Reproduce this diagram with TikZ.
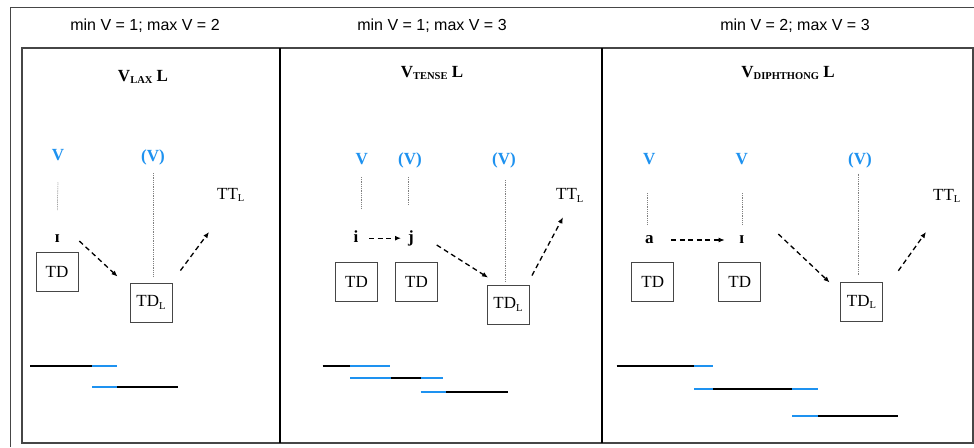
\documentclass[tikz,border=0pt]{standalone}
\usepackage{fontspec}
\setmainfont{Liberation Serif}
\newfontfamily\titlefont{Liberation Sans}
\usetikzlibrary{calc,arrows.meta}
\definecolor{vblue}{RGB}{30,146,240}
\definecolor{framegray}{RGB}{70,70,70}
\newcommand{\subsc}[1]{\raisebox{-0.35ex}{\fontsize{10.5}{11}\selectfont #1}}
\tikzset{
  titletext/.style={font=\titlefont\fontsize{16}{18}\selectfont, anchor=base, inner sep=0pt},
  headtext/.style={font=\bfseries\fontsize{17}{19}\selectfont, anchor=base, inner sep=0pt},
  vtext/.style={font=\bfseries\fontsize{17}{19}\selectfont, text=vblue, anchor=base, inner sep=0pt},
  segtext/.style={font=\bfseries\fontsize{17}{19}\selectfont, anchor=base, inner sep=0pt},
  tttext/.style={font=\fontsize{17}{19}\selectfont, anchor=base west, inner sep=0pt},
  tdbox/.style={draw=framegray, line width=0.9pt, minimum width=42pt, minimum height=39pt, inner sep=0pt, font=\fontsize{17}{19}\selectfont},
  dasharrow/.style={black, line width=1.3pt, dash pattern=on 5pt off 3.5pt, -{Latex[length=6pt,width=5pt]}},
  vline/.style={gray, line width=0.6pt, dash pattern=on 0.9pt off 0.9pt},
  bk/.style={black, line width=2.2pt},
  bl/.style={vblue, line width=2.2pt},
  panel/.style={draw=framegray, line width=1.3pt},
}
\begin{document}
\begin{tikzpicture}[x=1pt,y=-1pt]
\useasboundingbox (0,0) rectangle (974,447);
\fill[white] (0,0) rectangle (974,447);
% outer frame
\draw[framegray, line width=1pt] (10,447) -- (10,7) -- (974,7);
% panels
\draw[panel] (22,48) rectangle (973,443);
\draw[black, line width=1.8pt] (280,48) -- (280,443);
\draw[black, line width=1.8pt] (602,48) -- (602,443);
% titles
\node[titletext] (t1) at (145,30.5) {min V = 1; max V = 2};
\node[titletext] (t2) at (432,30.5) {min V = 1; max V = 3};
\node[titletext] (t3) at (795,30.5) {min V = 2; max V = 3};
% headings
\node[headtext] (h1) at (143,81) {V\subsc{LAX} L};
\node[headtext] (h2) at (432,77) {V\subsc{TENSE} L};
\node[headtext] (h3) at (788,77) {V\subsc{DIPHTHONG} L};

% ---------- panel 1 ----------
\node[vtext] (v1a) at (58,160.5) {V};
\node[vtext] (v1b) at (153,161) {(V)};
\node[segtext] (s1a) at (57.3,242) {ɪ};
\node[tdbox] (td1a) at (57,271.5) {TD};
\node[tdbox] (tdl1) at (151,302.5) {TD\subsc{L}};
\node[tttext] (tt1) at (217,199) {TT\subsc{L}};
\draw[vline] ($(v1a.base)+(0,22)$) -- ($(s1a.base)+(0,-32)$);
\draw[vline] ($(v1b.base)+(0,12)$) -- ($(tdl1.north)+(2,-6)$);
\coordinate (a1s) at ($(s1a.base)+(22,-1)$);
\coordinate (a1e) at ($(tdl1.north west)+(-12,-6)$);
\draw[dasharrow] (a1s) -- (a1e);
\coordinate (a2s) at ($(tdl1.north east)+(8,-12)$);
\coordinate (a2e) at ($(tt1.base west)+(-8,33)$);
\draw[dasharrow] (a2s) -- (a2e);
\draw[bk] (30,366) -- (92,366);
\draw[bl] (92,366) -- (117,366);
\draw[bl] (92,387) -- (117,387);
\draw[bk] (117,387) -- (178,387);

% ---------- panel 2 ----------
\node[vtext] (v2a) at (361.7,164) {V};
\node[vtext] (v2b) at (410,164) {(V)};
\node[vtext] (v2c) at (504,164) {(V)};
\node[segtext] (s2a) at (356,242.7) {i};
\node[segtext] (s2b) at (411,242.7) {j};
\node[tdbox] (td2a) at (356.5,282) {TD};
\node[tdbox] (td2b) at (416.5,282) {TD};
\node[tdbox] (tdl2) at (508,304.5) {TD\subsc{L}};
\node[tttext] (tt2) at (556,199.3) {TT\subsc{L}};
\draw[vline] ($(v2a.base)+(0,13)$) -- ($(v2a.base)+(0,44)$);
\draw[vline] ($(v2b.base)+(-2,13)$) -- ($(v2b.base)+(-2,41)$);
\draw[vline] ($(v2c.base)+(1,16)$) -- ($(tdl2.north)+(-3,-3)$);
\draw[dasharrow] ($(s2a.base)+(13,-4.5)$) -- ($(s2b.base)+(-10,-4.5)$);
\coordinate (b1s) at (436.7,245);
\coordinate (b1e) at ($(tdl2.north west)+(1.5,-7)$);
\draw[dasharrow] (b1s) -- (b1e);
\coordinate (b2s) at ($(tdl2.north east)+(2.5,-9)$);
\coordinate (b2e) at ($(tt2.base west)+(7,18)$);
\draw[dasharrow] (b2s) -- (b2e);
\draw[bk] (322.7,366) -- (350,366);
\draw[bl] (350,366) -- (390,366);
\draw[bl] (350,378) -- (390.7,378);
\draw[bk] (390.7,378) -- (420.7,378);
\draw[bl] (420.7,378) -- (442.7,378);
\draw[bl] (420.7,391.7) -- (446,391.7);
\draw[bk] (446,391.7) -- (508.3,391.7);

% ---------- panel 3 ----------
\node[vtext] (v3a) at (649.3,164) {V};
\node[vtext] (v3b) at (741.7,164) {V};
\node[vtext] (v3c) at (860,164.5) {(V)};
\node[segtext] (s3a) at (649.3,243.3) {a};
\node[segtext] (s3b) at (741.7,243) {ɪ};
\node[tdbox] (td3a) at (652.8,282) {TD};
\node[tdbox] (td3b) at (739.7,282) {TD};
\node[tdbox] (tdl3) at (861.5,302) {TD\subsc{L}};
\node[tttext] (tt3) at (933,200) {TT\subsc{L}};
\draw[vline] ($(v3a.base)+(-2,29)$) -- ($(v3a.base)+(-2,60)$);
\draw[vline] ($(v3b.base)+(0.3,29)$) -- ($(v3b.base)+(0.3,60)$);
\draw[vline] ($(v3c.base)+(-1.3,9)$) -- ($(tdl3.north)+(-2.8,-7)$);
\draw[dasharrow] ($(s3a.base)+(22,-3.3)$) -- ($(s3b.base)+(-17,-3)$);
\coordinate (c1s) at (778.3,234);
\coordinate (c1e) at ($(tdl3.north west)+(-10.4,0.4)$);
\draw[dasharrow] (c1s) -- (c1e);
\coordinate (c2s) at ($(tdl3.north east)+(15.4,-11.3)$);
\coordinate (c2e) at ($(tt3.base west)+(-7,32)$);
\draw[dasharrow] (c2s) -- (c2e);
\draw[bk] (616.7,366) -- (694.3,366);
\draw[bl] (694.3,366) -- (712.7,366);
\draw[bl] (694.3,389) -- (713.3,389);
\draw[bk] (713.3,389) -- (792.3,389);
\draw[bl] (792.3,389) -- (817.7,389);
\draw[bl] (792.3,415.7) -- (818.3,415.7);
\draw[bk] (818.3,415.7) -- (898.3,415.7);
\end{tikzpicture}
\end{document}
